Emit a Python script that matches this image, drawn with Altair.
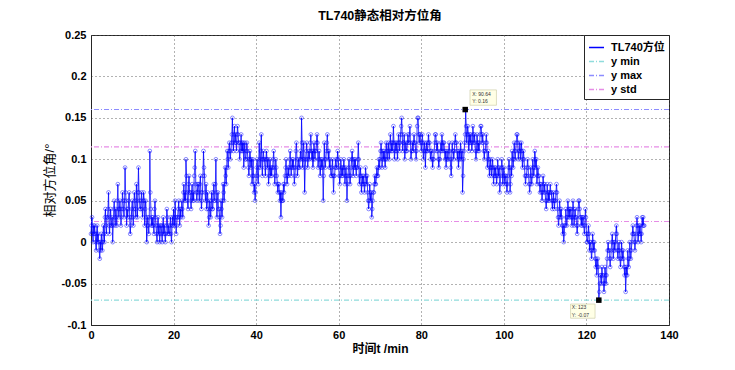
import altair as alt
import pandas as pd

# ---------------- data ----------------
SAMPLE_MIN = 0.125  # sampling interval in minutes (8 samples per minute)

# relative azimuth in 1/100 degree; one row per minute (0 ... 133), plus last sample
angle_centi = [
    1, 2, 3, 1, 0, 2, 1, 2,
    1, 0, -1, 1, 2, 0, 1, 0,
    -1, -2, 0, -1, 1, 0, -1, 0,
    2, 1, 0, 3, 4, 2, 1, 3,
    3, 4, 6, 2, 1, 3, 4, 2,
    2, 3, 0, 2, 4, 5, 3, 2,
    4, 3, 2, 5, 7, 4, 3, 4,
    5, 4, 2, 3, 4, 6, 5, 4,
    3, 5, 9, 6, 5, 2, 4, 3,
    4, 5, 6, 3, 1, 2, 3, 4,
    5, 3, 2, 4, 6, 5, 4, 3,
    7, 5, 3, 6, 9, 6, 5, 4,
    4, 5, 6, 4, 3, 5, 6, 5,
    2, 4, 5, 3, 0, 2, 3, 2,
    1, 3, 11, 6, 4, 2, 3, 2,
    3, 2, 1, 4, 5, 3, 2, 1,
    0, 2, 3, 1, 2, 0, 1, 2,
    2, 1, 0, 2, 3, 1, 2, 1,
    0, 1, 2, 4, 3, 1, 2, 1,
    1, 2, 3, 1, 0, 2, 3, 2,
    4, 3, 2, 5, 3, 1, 2, 3,
    3, 4, 5, 3, 2, 4, 3, 4,
    5, 4, 3, 6, 7, 5, 6, 5,
    10, 8, 6, 5, 4, 7, 8, 6,
    6, 5, 4, 6, 7, 5, 6, 5,
    8, 9, 11, 7, 6, 5, 6, 7,
    7, 6, 5, 7, 8, 6, 4, 5,
    6, 8, 11, 9, 8, 6, 5, 7,
    4, 5, 6, 4, 2, 3, 5, 4,
    3, 5, 6, 4, 4, 6, 7, 5,
    5, 7, 10, 6, 3, 5, 6, 4,
    4, 3, 1, 2, 5, 4, 3, 5,
    7, 6, 5, 7, 9, 8, 7, 9,
    11, 10, 9, 11, 12, 11, 10, 11,
    12, 13, 15, 12, 11, 13, 14, 12,
    13, 12, 11, 13, 14, 13, 12, 12,
    10, 11, 12, 13, 11, 12, 11, 12,
    9, 11, 12, 10, 10, 11, 12, 11,
    10, 9, 8, 10, 11, 10, 9, 10,
    7, 8, 10, 8, 6, 7, 5, 6,
    8, 9, 10, 8, 7, 9, 12, 10,
    9, 11, 13, 10, 8, 10, 11, 10,
    10, 9, 8, 10, 11, 10, 9, 10,
    7, 8, 9, 10, 8, 9, 8, 9,
    9, 10, 11, 9, 7, 8, 10, 9,
    8, 7, 6, 7, 7, 6, 5, 6,
    3, 5, 6, 5, 5, 7, 6, 7,
    8, 9, 10, 8, 7, 8, 9, 8,
    9, 10, 11, 9, 8, 9, 10, 9,
    10, 9, 7, 8, 9, 11, 12, 10,
    8, 9, 10, 9, 9, 10, 11, 10,
    15, 12, 9, 10, 12, 10, 6, 9,
    10, 11, 12, 10, 9, 10, 11, 10,
    11, 12, 13, 11, 10, 11, 9, 10,
    12, 11, 10, 11, 11, 12, 13, 12,
    9, 10, 11, 10, 8, 9, 10, 9,
    10, 9, 5, 8, 12, 10, 9, 10,
    11, 12, 13, 11, 10, 11, 9, 10,
    9, 8, 8, 9, 10, 8, 6, 8,
    8, 9, 10, 9, 9, 10, 11, 10,
    9, 8, 7, 8, 10, 9, 8, 9,
    8, 9, 10, 9, 7, 8, 9, 8,
    5, 7, 8, 9, 10, 8, 7, 8,
    9, 10, 11, 10, 8, 9, 10, 9,
    10, 9, 8, 9, 9, 10, 12, 10,
    7, 8, 9, 8, 6, 7, 8, 7,
    8, 7, 6, 7, 9, 8, 7, 8,
    6, 5, 4, 5, 7, 6, 5, 6,
    3, 4, 5, 6, 6, 7, 8, 7,
    7, 8, 9, 8, 8, 9, 10, 9,
    10, 11, 12, 11, 9, 10, 11, 10,
    11, 10, 9, 10, 12, 11, 10, 11,
    12, 11, 10, 11, 13, 12, 11, 12,
    11, 12, 14, 12, 10, 11, 12, 11,
    12, 11, 10, 12, 13, 12, 11, 12,
    13, 14, 15, 13, 11, 12, 12, 13,
    10, 11, 12, 11, 11, 12, 13, 12,
    12, 13, 14, 12, 10, 11, 11, 12,
    11, 12, 13, 12, 12, 11, 10, 11,
    14, 15, 15, 13, 12, 13, 13, 12,
    11, 12, 13, 12, 10, 11, 12, 11,
    9, 11, 12, 11, 11, 12, 13, 12,
    12, 11, 10, 11, 11, 10, 9, 10,
    10, 11, 12, 13, 13, 12, 11, 12,
    11, 10, 9, 10, 10, 11, 12, 11,
    13, 12, 11, 12, 12, 11, 10, 11,
    9, 10, 11, 10, 10, 11, 12, 11,
    10, 9, 8, 10, 12, 11, 11, 10,
    11, 12, 13, 12, 12, 11, 10, 11,
    9, 10, 11, 10, 12, 11, 10, 11,
    6, 8, 10, 11, 12, 13, 16, 14,
    12, 13, 14, 13, 11, 12, 13, 12,
    13, 12, 11, 12, 14, 13, 12, 13,
    12, 11, 10, 11, 13, 12, 11, 12,
    11, 12, 13, 14, 14, 13, 12, 13,
    12, 11, 10, 11, 11, 12, 13, 12,
    9, 10, 11, 10, 8, 9, 10, 9,
    8, 9, 10, 9, 7, 8, 9, 8,
    9, 8, 7, 8, 10, 9, 8, 9,
    6, 7, 8, 9, 10, 9, 7, 8,
    9, 8, 7, 8, 8, 7, 6, 7,
    8, 9, 10, 9, 6, 7, 9, 8,
    11, 10, 9, 10, 12, 11, 10, 11,
    12, 13, 13, 12, 10, 11, 11, 12,
    10, 11, 12, 11, 9, 10, 11, 10,
    9, 8, 7, 8, 8, 9, 10, 9,
    8, 7, 6, 7, 9, 8, 7, 8,
    10, 9, 8, 9, 11, 10, 9, 10,
    7, 8, 9, 8, 8, 7, 6, 7,
    7, 6, 5, 6, 8, 7, 6, 7,
    6, 5, 4, 5, 7, 6, 5, 6,
    5, 6, 7, 6, 6, 5, 4, 5,
    6, 5, 4, 5, 5, 6, 7, 6,
    4, 3, 2, 3, 5, 4, 3, 4,
    3, 2, 1, 2, 0, 1, 2, 2,
    4, 3, 2, 3, 5, 4, 3, 4,
    3, 4, 4, 3, 2, 3, 5, 4,
    2, 3, 4, 3, 3, 2, 1, 2,
    4, 5, 5, 4, 3, 3, 2, 3,
    2, 3, 3, 2, 1, 2, 4, 3,
    1, 0, 0, 1, 2, 1, -1, 0,
    0, -1, -2, -1, 1, 0, -1, 0,
    -1, -2, -3, -2, -4, -3, -2, -3,
    -7, -6, -5, -4, -4, -5, -3, -4,
    -4, -5, -6, -5, -3, -4, -5, -4,
    -2, -1, 0, -1, -1, -2, -3, -2,
    -1, 0, 1, 0, -2, -1, 0, -1,
    0, 1, 2, 1, -1, -2, -1, 0,
    -1, -2, -3, -2, 0, -1, -2, -1,
    -2, -3, -4, -3, -6, -4, -3, -4,
    -1, -2, -3, -2, 0, -1, -2, -1,
    0, 1, 2, 1, 1, 0, -1, 0,
    1, 2, 3, 2, 0, 1, 2, 1,
    2, 1, 0, 1, 3, 2, 3, 2,
    2,
]

series_names = ["TL740方位", "y min", "y max", "y std"]
series_colors = ["#0000ff", "#8fdcdc", "#8c8cff", "#e68ce6"]
series_dashes = [[1, 0], [5, 2, 1, 2], [5, 2, 1, 2], [5, 2, 1, 2]]

ref_series = ["y min", "y max", "y std", "y std"]
ref_values = [-0.07, 0.16, 0.115, 0.025]

tip_x = [90.64, 123]
tip_y = [0.16, -0.07]
tip_line1 = ["X: 90.64", "X: 123"]
tip_line2 = ["Y: 0.16", "Y: -0.07"]

x_ticks = [0, 20, 40, 60, 80, 100, 120, 140]
y_ticks = [-0.1, -0.05, 0, 0.05, 0.1, 0.15, 0.2, 0.25]

# ---------------- tables ----------------
df = pd.DataFrame({
    "t": [i * SAMPLE_MIN for i in range(len(angle_centi))],
    "v": [a / 100 for a in angle_centi],
    "series": series_names[0],
})
ref_df = pd.DataFrame({"series": ref_series, "v": ref_values})
tip_df = pd.DataFrame({"t": tip_x, "v": tip_y, "l1": tip_line1, "l2": tip_line2})

LATIN_CJK = "Liberation Sans, Noto Sans CJK SC"

x_scale = alt.Scale(domain=[0, 140], nice=False, zero=False)
y_scale = alt.Scale(domain=[-0.1, 0.25], nice=False, zero=False)
color_scale = alt.Scale(domain=series_names, range=series_colors)
dash_scale = alt.Scale(domain=series_names, range=series_dashes)

x_axis = alt.Axis(values=x_ticks, format="d", title="时间t /min", labelFlush=False,
                  labelOverlap=False, ticks=False, labelPadding=4, titlePadding=3)
y_axis = alt.Axis(values=y_ticks, format=".2~f", title="相对方位角/°", labelFlush=False,
                  labelOverlap=False, ticks=False, labelPadding=5, titlePadding=4,
                  labelExpr="replace(datum.label, '−', '-')")

X = alt.X("t:Q", scale=x_scale, axis=x_axis)
Y = alt.Y("v:Q", scale=y_scale, axis=y_axis)

legend = alt.Legend(title=None, orient="top-right", offset=0)
COLOR = alt.Color("series:N", scale=color_scale, legend=legend)
DASH = alt.StrokeDash("series:N", scale=dash_scale, legend=legend)

rules = alt.Chart(ref_df).mark_rule(strokeWidth=1.1).encode(
    y=alt.Y("v:Q", scale=y_scale, axis=y_axis), color=COLOR, strokeDash=DASH)

line = alt.Chart(df).mark_line(strokeWidth=0.9, opacity=1).encode(
    x=X, y=Y, color=COLOR, strokeDash=DASH, order="t:Q")

pts = alt.Chart(df).mark_point(shape="circle", filled=False, size=14,
                               strokeWidth=0.6, color="#0000ff", opacity=0.75).encode(
    x=X, y=Y)

squares = alt.Chart(tip_df).mark_point(shape="square", filled=True, color="black",
                                       size=30, opacity=1).encode(x=X, y=Y)

BOX = "M-1,-0.58L1,-0.58L1,0.58L-1,0.58Z"
box_top = alt.Chart(tip_df.iloc[[0]]).mark_point(
    shape=BOX, size=700, filled=True, fill="#ffffe6", stroke="#c8c8a0",
    strokeWidth=0.6, opacity=1, xOffset=18, yOffset=-12).encode(x=X, y=Y)
box_bot = alt.Chart(tip_df.iloc[[1]]).mark_point(
    shape=BOX, size=600, filled=True, fill="#ffffe6", stroke="#c8c8a0",
    strokeWidth=0.6, opacity=1, xOffset=-16, yOffset=11).encode(x=X, y=Y)

txt_kw = dict(fontSize=5, font="Liberation Sans", color="#333", align="left",
              baseline="middle")
t1_top = alt.Chart(tip_df.iloc[[0]]).mark_text(dx=7, dy=-16, **txt_kw).encode(
    x=X, y=Y, text="l1:N")
t2_top = alt.Chart(tip_df.iloc[[0]]).mark_text(dx=7, dy=-9, **txt_kw).encode(
    x=X, y=Y, text="l2:N")
t1_bot = alt.Chart(tip_df.iloc[[1]]).mark_text(dx=-27, dy=7, **txt_kw).encode(
    x=X, y=Y, text="l1:N")
t2_bot = alt.Chart(tip_df.iloc[[1]]).mark_text(dx=-27, dy=15, **txt_kw).encode(
    x=X, y=Y, text="l2:N")

chart = alt.layer(
    rules, line, pts, squares, box_top, box_bot, t1_top, t2_top, t1_bot, t2_bot
).properties(
    width=578, height=290,
    title=alt.TitleParams("TL740静态相对方位角", font=LATIN_CJK, fontSize=12.5,
                          fontWeight="bold", color="#000", offset=7),
    autosize=alt.AutoSizeParams(type="none"),
    padding={"left": 83, "top": 27, "right": 58, "bottom": 37},
    background="white",
).configure_view(
    stroke="#262626", strokeWidth=1
).configure_axis(
    labelFont="Liberation Sans", labelFontSize=11, labelFontWeight="bold",
    labelColor="#000", domainColor="#262626",
    grid=True, gridColor="#555555", gridDash=[1, 3], gridOpacity=0.9, gridWidth=1,
    titleFont=LATIN_CJK, titleColor="#000",
).configure_axisX(
    titleFontSize=12, titleFontWeight="bold"
).configure_axisY(
    titleFontSize=13, titleFontWeight="normal"
).configure_legend(
    strokeColor="#262626", fillColor="white", padding=4, cornerRadius=0,
    symbolType="stroke", symbolSize=225, symbolStrokeWidth=1.6,
    labelFont=LATIN_CJK, labelFontSize=11, labelFontWeight="bold", labelColor="#000",
    rowPadding=0, labelOffset=6,
)

chart.save("out.html", embed_options={"renderer": "svg", "actions": False})
